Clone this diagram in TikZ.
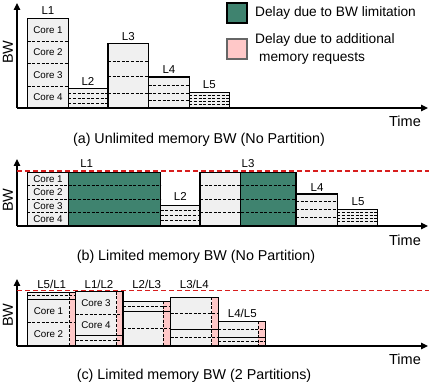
\documentclass[tikz,border=0pt]{standalone}
\usepackage{fontspec}
\setmainfont{Liberation Sans}
\usetikzlibrary{arrows.meta}
\definecolor{boxgray}{HTML}{F0F0F0}
\definecolor{delaygreen}{HTML}{3F836F}
\definecolor{delaypink}{HTML}{FFC8C8}
\definecolor{limitred}{HTML}{D81E1E}
\begin{document}
\begin{tikzpicture}[x=1pt,y=-1pt,
  boxline/.style={draw=black,line width=1.2pt},
  sepdash/.style={draw=black,line width=0.8pt,dash pattern=on 3pt off 1.6pt},
  sepsolid/.style={draw=black,line width=0.8pt},
  axisline/.style={line width=1.2pt,-{Triangle[length=7pt,width=6.5pt]}},
  limitline/.style={draw=limitred,line width=1.4pt,dash pattern=on 5pt off 3pt},
  captxt/.style={font=\fontsize{14.3}{16}\selectfont,inner sep=0},
  lab/.style={font=\fontsize{11.5}{13}\selectfont,inner sep=0},
  corelab/.style={font=\fontsize{9.8}{11}\selectfont,inner sep=0},
  axlab/.style={font=\fontsize{14.5}{16}\selectfont,inner sep=0},
  legtxt/.style={font=\fontsize{13.7}{16}\selectfont,inner sep=0,anchor=west}
]
\useasboundingbox (0,0) rectangle (429,385);

% ================= Legend =================
\node[draw=black,line width=1.5pt,fill=delaygreen,minimum width=20pt,minimum height=20pt,inner sep=0] (leggreen) at (237,13) {};
\node[draw=black!60,line width=1.2pt,fill=delaypink,minimum width=20pt,minimum height=20pt,inner sep=0] (legpink) at (237,49) {};
\node[legtxt] (leggreentxt) at (255,13) {Delay due to BW limitation};
\node[legtxt] (legpinktxt1) at (255,40) {Delay due to additional};
\node[legtxt] (legpinktxt2) at (259,58) {memory requests};

% ================= Panel (a) =================
\coordinate (a-o) at (17,108);
\coordinate (a-yt) at (17,3);
\coordinate (a-xt) at (428,108);
% L1
\fill[boxgray] (27.7,18.5) rectangle (68.3,108);
\foreach \y in {41,63.3,86} \draw[sepdash] (27.7,\y) -- (68.3,\y);
\draw[boxline] (27.7,18.5) rectangle (68.3,108);
% L2
\fill[boxgray] (68.3,88.5) rectangle (108,108);
\foreach \y in {93.3,98.3,103.3} \draw[sepdash] (68.3,\y) -- (108,\y);
\draw[boxline] (68.3,88.5) rectangle (108,108);
% L3
\fill[boxgray] (108,43.7) rectangle (148.7,108);
\foreach \y in {61,76.7,93} \draw[sepdash] (108,\y) -- (148.7,\y);
\draw[boxline] (108,43.7) rectangle (148.7,108);
% L4
\fill[boxgray] (148.7,77) rectangle (189.3,108);
\foreach \y in {85,93.3,100.7} \draw[sepdash] (148.7,\y) -- (189.3,\y);
\draw[boxline] (148.7,77) rectangle (189.3,108);
% L5
\fill[boxgray] (189.3,92.3) rectangle (229.3,108);
\foreach \y in {95.8,98.8,101.6,104.4} \draw[sepdash] (189.3,\y) -- (229.3,\y);
\draw[boxline] (189.3,92.3) rectangle (229.3,108);
\draw[axisline] (a-o) -- (a-yt);
\draw[axisline] (a-o) -- (a-xt);
\node[corelab] (a-c1) at (48,30) {Core 1};
\node[corelab] (a-c2) at (48,52.3) {Core 2};
\node[corelab] (a-c3) at (48,74.7) {Core 3};
\node[corelab] (a-c4) at (48,97) {Core 4};
\node[lab] (a-L1) at (48,11) {L1};
\node[lab] (a-L2) at (88,81) {L2};
\node[lab] (a-L3) at (128.3,36.5) {L3};
\node[lab] (a-L4) at (169,70) {L4};
\node[lab] (a-L5) at (209.3,85) {L5};
\node[axlab,rotate=90] (a-bw) at (8,52) {BW};
\node[axlab] (a-time) at (405,121.5) {Time};
\node[captxt] (a-cap) at (199,139.5) {(a) Unlimited memory BW (No Partition)};

% ================= Panel (b) =================
\coordinate (b-o) at (17,226);
\coordinate (b-yt) at (17,159);
\coordinate (b-xt) at (428,226);
\coordinate (b-ll) at (17,170.9);
\coordinate (b-lr) at (429,170.9);
% L1
\fill[boxgray] (27.3,172.5) rectangle (68.3,226);
\fill[delaygreen] (68.3,172.5) rectangle (160.7,226);
\draw[sepsolid] (68.3,172.5) -- (68.3,226);
\foreach \y in {185.9,199.3,212.7} \draw[sepdash] (27.3,\y) -- (160.7,\y);
\draw[boxline] (27.3,172.5) rectangle (160.7,226);
% L2
\fill[boxgray] (160.7,205.3) rectangle (200,226);
\foreach \y in {210,215,220} \draw[sepdash] (160.7,\y) -- (200,\y);
\draw[boxline] (160.7,205.3) rectangle (200,226);
% L3
\fill[boxgray] (200,172.5) rectangle (240.7,226);
\fill[delaygreen] (240.7,172.5) rectangle (296,226);
\draw[sepsolid] (240.7,172.5) -- (240.7,226);
\foreach \y in {185.9,199.3,212.7} \draw[sepdash] (200,\y) -- (296,\y);
\draw[boxline] (200,172.5) rectangle (296,226);
% L4
\fill[boxgray] (296,194) rectangle (337.3,226);
\foreach \y in {201.5,209.5,217.7} \draw[sepdash] (296,\y) -- (337.3,\y);
\draw[boxline] (296,194) rectangle (337.3,226);
% L5
\fill[boxgray] (337.3,209.3) rectangle (377.7,226);
\foreach \y in {212.8,215.8,218.8,221.8} \draw[sepdash] (337.3,\y) -- (377.7,\y);
\draw[boxline] (337.3,209.3) rectangle (377.7,226);
\draw[axisline] (b-o) -- (b-yt);
\draw[axisline] (b-o) -- (b-xt);
\draw[limitline] (b-ll) -- (b-lr);
\node[corelab] (b-c1) at (48,179) {Core 1};
\node[corelab] (b-c2) at (48,192.6) {Core 2};
\node[corelab] (b-c3) at (48,206) {Core 3};
\node[corelab] (b-c4) at (48,219.3) {Core 4};
\node[lab] (b-L1) at (86.7,163.3) {L1};
\node[lab] (b-L2) at (180.3,196.7) {L2};
\node[lab] (b-L3) at (248,163.3) {L3};
\node[lab] (b-L4) at (317,187.5) {L4};
\node[lab] (b-L5) at (358,201.7) {L5};
\node[axlab,rotate=90] (b-bw) at (8,200) {BW};
\node[axlab] (b-time) at (405,240) {Time};
\node[captxt] (b-cap) at (196,257) {(b) Limited memory BW (No Partition)};

% ================= Panel (c) =================
\coordinate (c-o) at (17,346);
\coordinate (c-yt) at (17,279);
\coordinate (c-xt) at (428,346);
\coordinate (c-ll) at (17,290.5);
\coordinate (c-lr) at (429,290.5);
% Box 1: L5/L1
\fill[boxgray] (27.7,292.3) rectangle (75.7,346);
\fill[delaypink] (69.5,292.3) rectangle (75.7,346);
\draw[sepdash] (27.7,295.3) -- (75.7,295.3);
\draw[sepsolid] (27.7,299) -- (75.7,299);
\draw[sepdash] (27.7,322.3) -- (75.7,322.3);
\draw[sepdash] (69.5,292.3) -- (69.5,346);
\draw[boxline] (27.7,292.3) rectangle (75.7,346);
% Box 2: L1/L2
\fill[boxgray] (75.7,291.8) rectangle (123,346);
\fill[delaypink] (116.7,291.8) rectangle (123,346);
\draw[sepdash] (75.7,314.5) -- (123,314.5);
\draw[sepsolid] (75.7,335.7) -- (123,335.7);
\draw[sepdash] (75.7,339.9) -- (123,339.9);
\draw[sepdash] (116.7,291.8) -- (116.7,346);
\draw[boxline] (75.7,291.8) rectangle (123,346);
% Box 3: L2/L3
\fill[boxgray] (123,301.3) rectangle (170.7,346);
\fill[delaypink] (163.3,301.3) rectangle (170.7,346);
\draw[sepdash] (123,306.3) -- (170.7,306.3);
\draw[sepsolid] (123,311.3) -- (170.7,311.3);
\draw[sepdash] (123,328.7) -- (170.7,328.7);
\draw[sepdash] (163.3,301.3) -- (163.3,346);
\draw[boxline] (123,301.3) rectangle (170.7,346);
% Box 4: L3/L4
\fill[boxgray] (170.7,297.3) rectangle (218.3,346);
\fill[delaypink] (211.7,297.3) rectangle (218.3,346);
\draw[sepdash] (170.7,313) -- (218.3,313);
\draw[sepsolid] (170.7,329.7) -- (218.3,329.7);
\draw[sepdash] (170.7,337.5) -- (218.3,337.5);
\draw[sepdash] (211.7,297.3) -- (211.7,346);
\draw[boxline] (170.7,297.3) rectangle (218.3,346);
% Box 5: L4/L5
\fill[boxgray] (218.3,321.3) rectangle (265.7,346);
\fill[delaypink] (258.3,321.3) rectangle (265.7,346);
\draw[sepdash] (218.3,329.7) -- (265.7,329.7);
\draw[sepsolid] (218.3,337.3) -- (265.7,337.3);
\draw[sepdash] (218.3,341.4) -- (265.7,341.4);
\draw[sepdash] (258.3,321.3) -- (258.3,346);
\draw[boxline] (218.3,321.3) rectangle (265.7,346);
\draw[axisline] (c-o) -- (c-yt);
\draw[axisline] (c-o) -- (c-xt);
\draw[limitline] (c-ll) -- (c-lr);
\node[corelab] (c-c1) at (48.5,311) {Core 1};
\node[corelab] (c-c2) at (48.5,334) {Core 2};
\node[corelab] (c-c3) at (96,303) {Core 3};
\node[corelab] (c-c4) at (96,325) {Core 4};
\node[lab] (c-L51) at (51.7,284) {L5/L1};
\node[lab] (c-L12) at (99,284) {L1/L2};
\node[lab] (c-L23) at (146.7,284) {L2/L3};
\node[lab] (c-L34) at (194.3,284) {L3/L4};
\node[lab] (c-L45) at (242.3,313.3) {L4/L5};
\node[axlab,rotate=90] (c-bw) at (8,315) {BW};
\node[axlab] (c-time) at (405,359.3) {Time};
\node[captxt] (c-cap) at (194,375.5) {(c) Limited memory BW (2 Partitions)};
\end{tikzpicture}
\end{document}
